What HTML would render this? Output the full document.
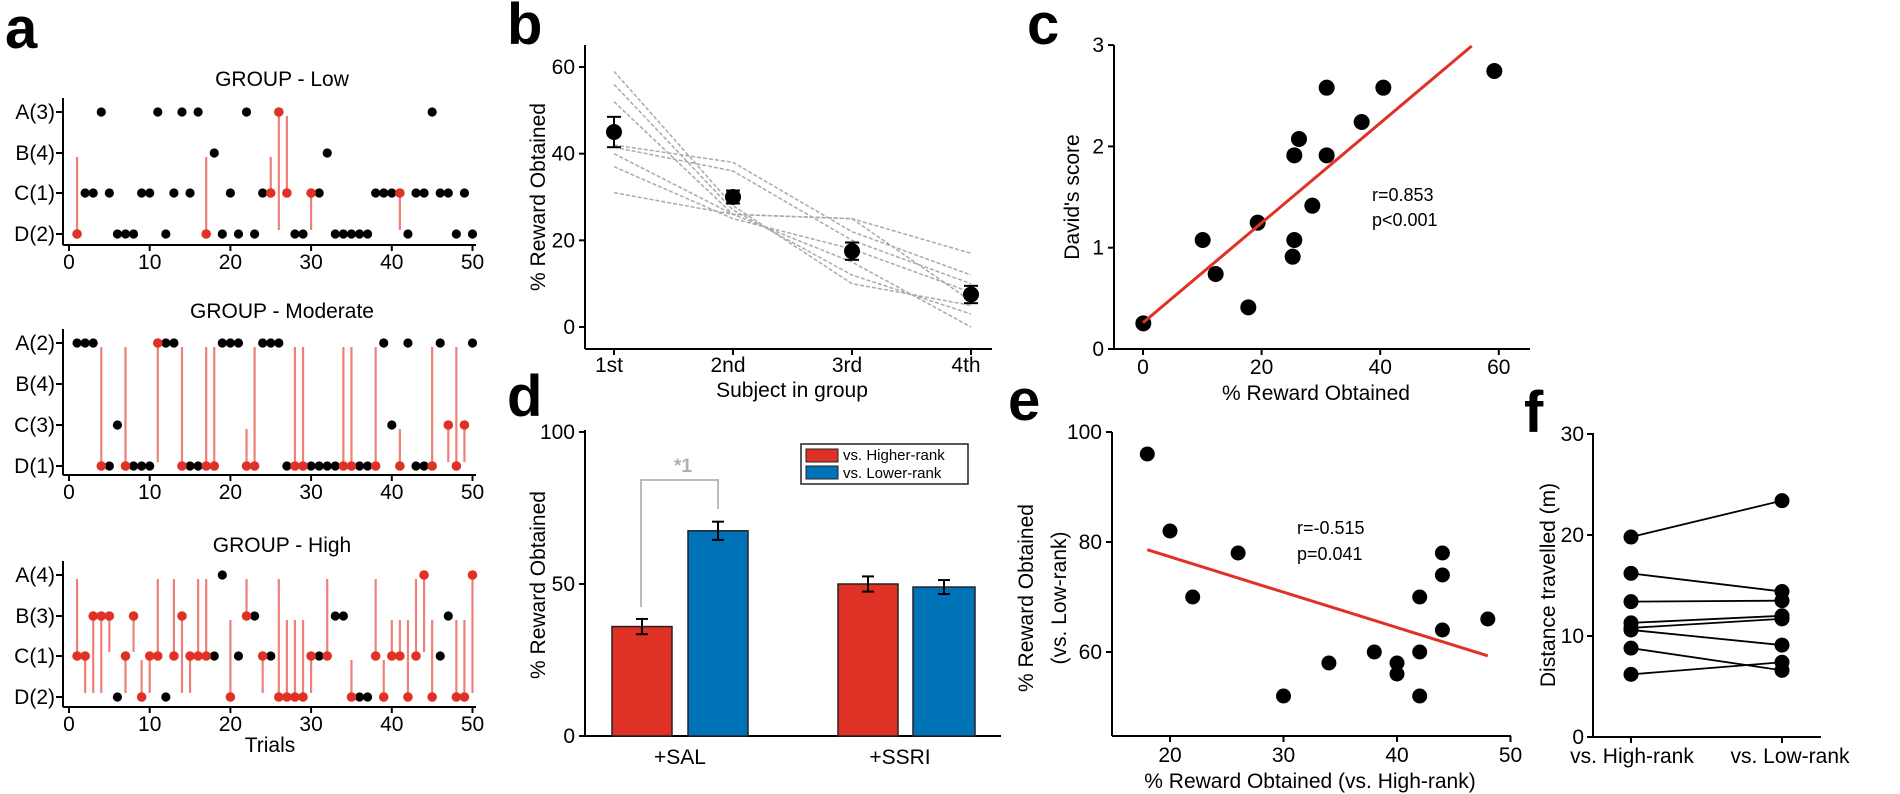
<!DOCTYPE html>
<html><head><meta charset="utf-8"><style>
html,body{margin:0;padding:0;background:#fff;}
svg{display:block;font-family:"Liberation Sans",Arial,sans-serif;}
</style></head><body>
<svg id="s" width="1900" height="794" viewBox="0 0 1900 794" xmlns="http://www.w3.org/2000/svg"></svg>
<script>
const S=document.getElementById('s');let h='';
const RED='#e03127',BLUE='#0072b8';
function t(x,y,s,fs,anc,extra){h+=`<text x="${x}" y="${y}" font-size="${fs||20}" text-anchor="${anc||'middle'}" ${extra||''}>${s}</text>`;}
function l(x1,y1,x2,y2,c,w,extra){h+=`<line x1="${x1}" y1="${y1}" x2="${x2}" y2="${y2}" stroke="${c||'#000'}" stroke-width="${w||2}" ${extra||''}/>`;}
function c(x,y,r,f){h+=`<circle cx="${x}" cy="${y}" r="${r}" fill="${f||'#000'}"/>`;}
// panel letters
t(5,48,'a',58,'start','font-weight="bold"');
t(507,44,'b',58,'start','font-weight="bold"');
t(1027,44,'c',58,'start','font-weight="bold"');
t(507,416,'d',58,'start','font-weight="bold"');
t(1008,420,'e',58,'start','font-weight="bold"');
t(1524,432,'f',58,'start','font-weight="bold"');
// ---- panel a
const X=tt=>69+8.07*tt;
function raster(title,titleY,rows,labels,axisY,blacks,reds){
 t(282,titleY,title,21);
 l(63,rows[0]-14,63,axisY,'#000',2);
 for(let i=0;i<4;i++){l(56,rows[i],63,rows[i]);t(55,rows[i]+7,labels[i],21,'end');}
 l(63,axisY,476,axisY);
 for(let k=0;k<=5;k++){const x=X(k*10);l(x,axisY,x,axisY+6);t(x,axisY+24,k*10,21);}
 // reds: [t,row,targetRow]
 reds.forEach(r=>{const y1=rows[r[1]];const tr=r[2];const y2=rows[tr]+(tr<r[1]?4:-4);
   l(X(r[0]),y1,X(r[0]),y2,'#ee8177',2.2);});
 blacks.forEach((b,i)=>b.forEach(tt=>c(X(tt),rows[i],4.6,'#000')));
 reds.forEach(r=>c(X(r[0]),rows[r[1]],4.8,RED));
}
raster('GROUP - Low',86,[112,153,193,234],['A(3)','B(4)','C(1)','D(2)'],245,
 [[4,11,14,16,22,45],[18,32],[2,3,5,9,10,13,15,20,24,31,38,39,40,43,44,46,47,49],[6,7,8,12,19,21,23,28,29,33,34,35,36,37,42,48,50]],
 [[1,3,1],[17,3,1],[25,2,1],[26,0,3],[27,2,0],[30,2,3],[41,2,3]]);
raster('GROUP - Moderate',318,[343,384,425,466],['A(2)','B(4)','C(3)','D(1)'],475,
 [[1,2,3,12,13,19,20,21,24,25,26,39,42,46,50],[],[6,40],[5,8,9,10,15,16,27,30,31,32,33,36,37,43,44]],
 [[11,0,3],[4,3,0],[7,3,0],[14,3,0],[17,3,0],[18,3,0],[22,3,2],[23,3,0],[28,3,0],[29,3,0],[34,3,0],[35,3,0],[38,3,0],[41,3,2],[45,3,0],[48,3,0],[47,2,3],[49,2,3]]);
raster('GROUP - High',552,[575,616,656,697],['A(4)','B(3)','C(1)','D(2)'],707,
 [[19],[23,33,34,47],[18,21,25,31,46],[6,12,36,37]],
 [[1,2,0],[2,2,3],[3,1,3],[4,1,3],[5,1,2],[7,2,3],[8,1,2],[9,3,2],[10,2,3],[11,2,0],[13,2,0],[14,1,3],[15,2,3],[16,2,0],[17,2,0],[20,3,1],[22,1,0],[24,2,3],[26,3,0],[27,3,1],[28,3,1],[29,3,1],[30,2,3],[32,2,0],[35,3,2],[38,2,0],[39,3,2],[40,2,1],[41,2,1],[42,3,1],[43,2,0],[44,0,2],[45,3,1],[48,3,1],[49,3,1],[50,0,3]]);
t(270,752,'Trials',21);
// ---- panel b
const bY=v=>327-v*4.333;const bX=[614,733,852,971];
l(585,45,585,349);l(585,349,992,349);
[0,20,40,60].forEach(v=>{l(579,bY(v),585,bY(v));t(575,bY(v)+7,v,21,'end');});
['1st','2nd','3rd','4th'].forEach((s,i)=>{l(bX[i],349,bX[i],355);t(bX[i]-5,372,s,21);});
t(792,397,'Subject in group',21);
t(0,0,'% Reward Obtained',21,'middle','transform="translate(545,197) rotate(-90)"');
[[59,28,10,5],[56,27,12,3],[52,26,15,0],[42,38,22,12],[41.5,36,20,10],[40,26,25,17],[37,25,18,8],[31,26,25,6]].forEach(a=>{
 h+=`<polyline points="${a.map((v,i)=>bX[i]+','+bY(v)).join(' ')}" fill="none" stroke="#aaa" stroke-width="1.5" stroke-dasharray="4,2"/>`;});
[[45,3.5],[30,1.5],[17.5,2],[7.5,2]].forEach((m,i)=>{const x=bX[i];l(x,bY(m[0]-m[1]),x,bY(m[0]+m[1]));l(x-7,bY(m[0]-m[1]),x+7,bY(m[0]-m[1]));l(x-7,bY(m[0]+m[1]),x+7,bY(m[0]+m[1]));c(x,bY(m[0]),8);});
// ---- panel c
const cX=v=>1143+v*5.93,cY=v=>349-v*101.3;
l(1114,45,1114,349);l(1114,349,1530,349);
[0,1,2,3].forEach(v=>{l(1108,cY(v),1114,cY(v));t(1104,cY(v)+7,v,21,'end');});
[0,20,40,60].forEach(v=>{l(cX(v),349,cX(v),355);t(cX(v),374,v,21);});
t(1316,400,'% Reward Obtained',21);
t(0,0,"David's score",21,'middle','transform="translate(1079,197) rotate(-90)"');
[[130,970],[308,720],[347,822],[445,922],[473,668],[583,720],[578,770],[583,466],[597,417],[680,263],[680,466],[637,617],[785,366],[850,263],[1183,213]].forEach(p=>c(1100+p[0]/3,p[1]/3,8));
l(1143,322.7,1471.7,46,RED,3);
t(1372,201,'r=0.853',18,'start');t(1372,226,'p&lt;0.001',18,'start');
// ---- panel d
const dY=v=>736-v*3.04;
l(585,430,585,736);l(585,736,1001,736);
[0,50,100].forEach(v=>{l(579,dY(v),585,dY(v));t(575,dY(v)+7,v,21,'end');});
t(0,0,'% Reward Obtained',21,'middle','transform="translate(545,585) rotate(-90)"');
function bar(x,w,v,e,col){h+=`<rect x="${x}" y="${dY(v)}" width="${w}" height="${736-dY(v)}" fill="${col}" stroke="#222" stroke-width="1.5"/>`;const cx=x+w/2;l(cx,dY(v-e),cx,dY(v+e));l(cx-6,dY(v-e),cx+6,dY(v-e));l(cx-6,dY(v+e),cx+6,dY(v+e));}
bar(612,60,36,2.5,RED);bar(688,60,67.5,3,BLUE);bar(838,60,50,2.5,RED);bar(913,62,49,2.3,BLUE);
t(680,764,'+SAL',21);t(900,764,'+SSRI',21);
h+=`<polyline points="641,607 641,480 718,480 718,509" fill="none" stroke="#bbb" stroke-width="2"/>`;
t(683,472,'*1',19,'middle','fill="#b0b0b0" font-weight="bold"');
h+=`<rect x="801" y="444" width="167" height="40" fill="#fff" stroke="#222" stroke-width="1.5"/>`;
h+=`<rect x="806" y="449" width="32" height="13" fill="${RED}" stroke="#222" stroke-width="1"/>`;
h+=`<rect x="806" y="466" width="32" height="13" fill="${BLUE}" stroke="#222" stroke-width="1"/>`;
t(843,460,'vs. Higher-rank',15,'start');t(843,478,'vs. Lower-rank',15,'start');
// ---- panel e
const eX=v=>1170+(v-20)*11.35,eY=v=>652-(v-60)*5.5;
l(1112,432,1112,736);l(1112,736,1511,736);
[60,80,100].forEach(v=>{l(1106,eY(v),1112,eY(v));t(1102,eY(v)+7,v,21,'end');});
[20,30,40,50].forEach(v=>{l(eX(v),736,eX(v),742);t(eX(v),762,v,21);});
t(1310,788,'% Reward Obtained (vs. High-rank)',21);
t(0,0,'% Reward Obtained',21,'middle','transform="translate(1033,598) rotate(-90)"');
t(0,0,'(vs. Low-rank)',21,'middle','transform="translate(1066,598) rotate(-90)"');
[[18,96],[20,82],[22,70],[26,78],[30,52],[34,58],[38,60],[40,58],[40,56],[42,70],[42,60],[42,52],[44,78],[44,74],[44,64],[48,66]].forEach(p=>c(eX(p[0]),eY(p[1]),7.5));
l(eX(18),eY(78.6),eX(48),eY(59.3),RED,3);
t(1297,534,'r=-0.515',18,'start');t(1297,560,'p=0.041',18,'start');
// ---- panel f
const fY=v=>737-v*10.1;
l(1593,433,1593,737);l(1593,737,1821,737);
[0,10,20,30].forEach(v=>{l(1587,fY(v),1593,fY(v));t(1584,fY(v)+7,v,21,'end');});
[1631,1782].forEach(x=>l(x,737,x,743));
t(1632,763,'vs. High-rank',21);t(1790,763,'vs. Low-rank',21);
t(0,0,'Distance travelled (m)',21,'middle','transform="translate(1555,585) rotate(-90)"');
[[19.8,23.4],[16.2,14.4],[13.4,13.5],[11.3,12],[10.8,11.7],[10.6,9.1],[8.8,6.6],[6.2,7.4]].forEach(p=>{l(1631,fY(p[0]),1782,fY(p[1]),'#000',1.8);c(1631,fY(p[0]),7.5);c(1782,fY(p[1]),7.5);});
S.innerHTML=h;
</script>
</body></html>
